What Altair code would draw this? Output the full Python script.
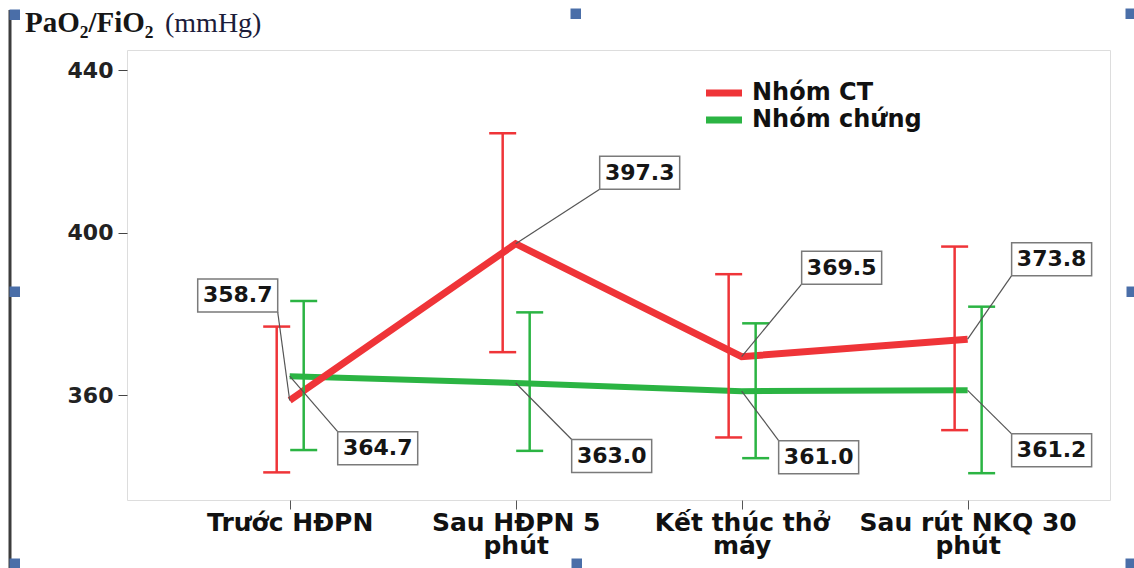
import json
import altair as alt
import pandas as pd

# ---- data -------------------------------------------------------------
stages = ["Trước HĐPN", "Sau HĐPN 5 phút", "Kết thúc thở máy", "Sau rút NKQ 30 phút"]
stage_lines = [["Trước HĐPN"], ["Sau HĐPN 5", "phút"], ["Kết thúc thở", "máy"], ["Sau rút NKQ 30", "phút"]]
groups = ["Nhóm CT", "Nhóm chứng"]

mean_ct = [358.7, 397.3, 369.5, 373.8]
lo_ct = [341.0, 370.6, 349.6, 351.4]
hi_ct = [376.9, 424.5, 389.8, 396.6]

mean_ch = [364.7, 363.0, 361.0, 361.2]
lo_ch = [346.5, 346.3, 344.5, 340.8]
hi_ch = [383.2, 380.4, 377.7, 381.8]

y_ticks = [360, 400, 440]

# ---- layout / style ---------------------------------------------------
W, H = 983, 450
X_DOM = [-0.72, 3.63]
Y_DOM = [334.2, 445.0]
PX = W / (X_DOM[1] - X_DOM[0])    # pixels per category step
PY = H / (Y_DOM[1] - Y_DOM[0])    # pixels per mmHg

RED = "#EF3438"
GREEN = "#2BB443"
colors = {"Nhóm CT": RED, "Nhóm chứng": GREEN}
bar_shift = {"Nhóm CT": -13, "Nhóm chứng": 14}          # error-bar offset (px)
cap_half = 13.5                                          # cap half width (px)
box_w, box_h = 80, 33                                    # value-box size (px)
# where each value box sits relative to its point (px, right / down)
box_shift = {
    "Nhóm CT": [(-52, -105), (124, -71), (100, -89), (84, -80)],
    "Nhóm chứng": [(88, 72), (96, 73), (77, 66), (84, 60)],
}

FONT = "DejaVu Sans"

rows = []
for g, means, los, his in [("Nhóm CT", mean_ct, lo_ct, hi_ct),
                           ("Nhóm chứng", mean_ch, lo_ch, hi_ch)]:
    for i, (m, lo, hi) in enumerate(zip(means, los, his)):
        dx, dy = box_shift[g][i]
        cx = i + dx / PX
        cy = m - dy / PY
        sx = 1 if dx > 0 else -1
        sy = 1 if dy > 0 else -1
        xb = i + bar_shift[g] / PX
        rows.append(dict(
            group=g, idx=i, stage=stages[i], mean=m, lo=lo, hi=hi,
            xbar=xb, capl=xb - cap_half / PX, capr=xb + cap_half / PX,
            cx=cx, cy=cy,
            bl=cx - box_w / 2 / PX, br=cx + box_w / 2 / PX,
            bt=cy + box_h / 2 / PY, bb=cy - box_h / 2 / PY,
            lx=cx - sx * box_w / 2 / PX, ly=cy + sy * box_h / 2 / PY,
            label=f"{m:.1f}",
        ))
df = pd.DataFrame(rows)

# ---- scales / axes ----------------------------------------------------
label_expr = " : ".join(
    f"datum.value == {i} ? {json.dumps(lines, ensure_ascii=False)}"
    for i, lines in enumerate(stage_lines)
) + " : ''"

xs = alt.Scale(domain=X_DOM, nice=False, zero=False)
ys = alt.Scale(domain=Y_DOM, nice=False, zero=False)
x_axis = alt.Axis(values=[0, 1, 2, 3], labelExpr=label_expr, title=None, grid=False,
                  domain=False, tickSize=9, tickColor="#555", tickWidth=1,
                  labelFont=FONT, labelFontWeight="bold", labelFontSize=25,
                  labelColor="#111", labelPadding=1, labelLineHeight=23,
                  labelLimit=0, labelOverlap=False)
y_axis = alt.Axis(values=y_ticks, title=None, grid=False, domain=False,
                  tickSize=9, tickColor="#444", tickWidth=1,
                  labelFont=FONT, labelFontWeight="bold", labelFontSize=22,
                  labelColor="#222", labelPadding=5)

base = alt.Chart(df)


def X(f):
    return alt.X(f, type="quantitative", scale=xs, axis=x_axis)


def Y(f):
    return alt.Y(f, type="quantitative", scale=ys, axis=y_axis)


def grp(g):
    return base.transform_filter(alt.datum.group == g)


# mean lines
lines = [
    grp("Nhóm chứng").mark_line(color=GREEN, strokeWidth=6).encode(x=X("idx"), y=Y("mean")),
    grp("Nhóm CT").mark_line(color=RED, strokeWidth=7).encode(x=X("idx"), y=Y("mean")),
]

# error bars with caps
bars = []
for g in groups:
    c = colors[g]
    bars += [
        grp(g).mark_rule(color=c, strokeWidth=2.5).encode(x=X("xbar"), y=Y("lo"), y2="hi"),
        grp(g).mark_rule(color=c, strokeWidth=2.5).encode(x=X("capl"), x2="capr", y=Y("lo")),
        grp(g).mark_rule(color=c, strokeWidth=2.5).encode(x=X("capl"), x2="capr", y=Y("hi")),
    ]

# value boxes with leader lines
leaders = base.mark_rule(color="#555", strokeWidth=1.2).encode(
    x=X("idx"), y=Y("mean"), x2="lx", y2="ly")
boxes = base.mark_rect(fill="white", stroke="#7a7a7a", strokeWidth=1.5).encode(
    x=X("bl"), x2="br", y=Y("bb"), y2="bt")
values = base.mark_text(font=FONT, fontWeight="bold", fontSize=22, color="#151515",
                        align="center", baseline="middle").encode(
    x=X("cx"), y=Y("cy"), text="label")

# legend
legend = []
for k, g in enumerate(groups):
    yv = 43 + 27 * k
    legend += [
        alt.Chart(pd.DataFrame({"g": [g]})).mark_rule(color=colors[g], strokeWidth=7).encode(
            x=alt.value(579), x2=alt.value(615), y=alt.value(yv)),
        alt.Chart(pd.DataFrame({"g": [g]})).mark_text(
            font=FONT, fontWeight="bold", fontSize=24, color="#111",
            align="left", baseline="middle").encode(
            x=alt.value(625), y=alt.value(yv), text="g:N"),
    ]

# y title
one = pd.DataFrame({"t": ["PaO₂/FiO₂", "(mmHg)"]})
title = [
    alt.Chart(one.iloc[[0]]).mark_text(font="Liberation Serif", fontWeight="bold", fontSize=29,
                                       color="#161616", align="left", baseline="alphabetic").encode(
        x=alt.value(-102), y=alt.value(-18), text="t:N"),
    alt.Chart(one.iloc[[1]]).mark_text(font="Liberation Serif", fontSize=28,
                                       color="#1c1c3a", align="left", baseline="alphabetic").encode(
        x=alt.value(38), y=alt.value(-18), text="t:N"),
]

# page frame: left edge and blue handles
frame = [
    alt.Chart(one.iloc[[0]]).mark_rule(color="#3c3c3c", strokeWidth=3).encode(
        x=alt.value(-117), x2=alt.value(-117), y=alt.value(-40), y2=alt.value(518)),
]
handles = pd.DataFrame({"hx": [13, 574, 1129, 13, 1130, 13, 575, 1129],
                        "hy": [13, 12, 12, 290, 290, 562, 562, 562]})
handles["px"] = handles["hx"] - 127
handles["py"] = handles["hy"] - 50
frame.append(
    alt.Chart(handles).mark_rect(color="#4a6ea8").encode(
        x=alt.X("px:Q", scale=None), x2=alt.X2("px2:Q"),
        y=alt.Y("py:Q", scale=None), y2=alt.Y2("py2:Q"))
    .transform_calculate(px2="datum.px + 7", py2="datum.py + 7",
                         px="datum.px - 3.5", py="datum.py - 3.5")
)

chart = alt.layer(
    *lines, *bars, leaders, boxes, values, *legend, *title, *frame
).properties(
    width=W, height=H,
    autosize=alt.AutoSizeParams(type="none"),
    padding={"left": 127, "top": 50, "right": 24, "bottom": 68},
).configure_view(stroke="#ececec", strokeWidth=1).configure(background="white")

chart.save("out.html", embed_options={"renderer": "svg", "actions": False})
